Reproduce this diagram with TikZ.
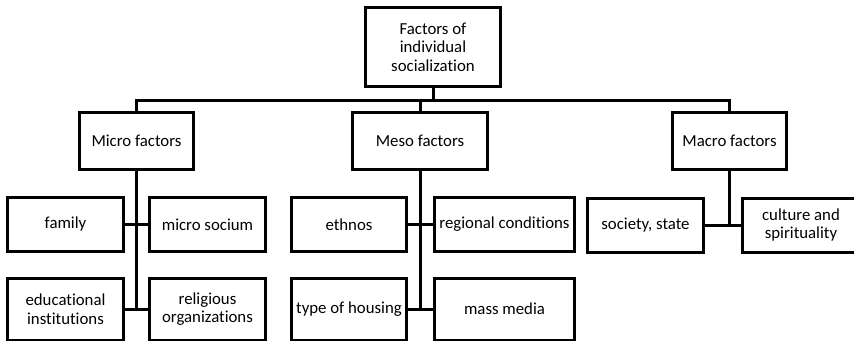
\documentclass[tikz,border=0pt]{standalone}
\usepackage{fontspec}
\setmainfont[RawFeature={-liga}]{Carlito}
\begin{document}
\begin{tikzpicture}[x=1pt,y=-1pt,
  box/.style={draw=black,line width=3pt,fill=white,inner sep=1pt,align=center,
    font=\fontsize{16.8}{18.5}\selectfont},
  conn/.style={draw=black,line width=3pt}]
\useasboundingbox (0,0) rectangle (854,340);
\clip (0,0) rectangle (854,340);
% top
\node[box,minimum width=135pt,minimum height=79pt] (top) at (433,47) {Factors of\\individual\\socialization};
% level 2
\node[box,minimum width=114pt,minimum height=57pt] (micro) at (136.5,141) {Micro factors};
\node[box,minimum width=135pt,minimum height=57pt] (meso) at (420,141) {Meso factors};
\node[box,minimum width=114pt,minimum height=57pt] (macro) at (729.5,141) {Macro factors};
% row 1
\node[box,minimum width=116pt,minimum height=54pt] (family) at (65.5,224.5) {family};
\node[box,minimum width=116pt,minimum height=54pt] (msoc) at (207.5,224.5) {micro socium};
\node[box,minimum width=115pt,minimum height=54pt] (ethnos) at (349,224.5) {ethnos};
\node[box,minimum width=140pt,minimum height=54pt] (regional) at (504.5,224.5) {regional conditions};
\node[box,minimum width=116pt,minimum height=54pt] (society) at (645.5,225) {society, state};
\node[box,minimum width=118pt,minimum height=54pt] (culture) at (801,225) {culture and\\spirituality};
% row 2
\node[box,minimum width=116pt,minimum height=62pt] (edu) at (65.5,309) {educational\\institutions};
\node[box,minimum width=116pt,minimum height=62pt] (rel) at (207.5,309) {religious\\organizations};
\node[box,minimum width=115pt,minimum height=62pt] (housing) at (349,309) {type of housing};
\node[box,minimum width=140pt,minimum height=62pt] (media) at (504.5,309) {mass media};
% bus
\coordinate (bus) at (433,100);
\draw[conn] (top.south) -- (top.south |- bus);
\draw[conn] (micro.north) -- (micro.north |- bus) -- (macro.north |- bus) -- (macro.north);
\draw[conn] (meso.north) -- (meso.north |- bus);
% micro branch
\draw[conn] (micro.south) -- (micro.south |- edu.east);
\draw[conn] (family.east) -- (msoc.west);
\draw[conn] (edu.east) -- (rel.west);
% meso branch
\draw[conn] (meso.south) -- (meso.south |- housing.east);
\draw[conn] (ethnos.east) -- (regional.west);
\draw[conn] (housing.east) -- (media.west);
% macro branch
\draw[conn] (macro.south) -- (macro.south |- society.east);
\draw[conn] (society.east) -- (culture.west);
\end{tikzpicture}
\end{document}
